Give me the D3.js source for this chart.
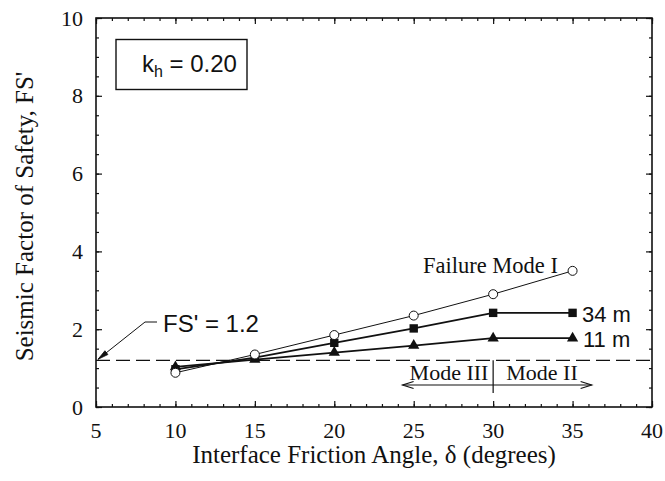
<!DOCTYPE html>
<html><head><meta charset="utf-8">
<script src="https://cdn.jsdelivr.net/npm/d3@7"></script>
<style>body{margin:0;background:#fff}svg{display:block}</style>
</head><body>
<svg id="c" width="665" height="481"></svg>
<script>
const angles = [10, 15, 20, 25, 30, 35];
const modeI = [0.88, 1.35, 1.85, 2.35, 2.90, 3.50];
const h34 = [0.97, 1.27, 1.65, 2.02, 2.42, 2.42];
const h11 = [1.03, 1.22, 1.40, 1.58, 1.77, 1.77];
const xTicks = [5, 10, 15, 20, 25, 30, 35, 40];
const yTicks = [0, 2, 4, 6, 8, 10];
const fsLimit = 1.2;
const modeBoundary = 30;
const modeArrowExtent = [24.3, 36.2];

const svg = d3.select("#c");
const L = 96, R = 652, T = 18, B = 407;
const x = d3.scaleLinear().domain([5, 40]).range([L, R]);
const y = d3.scaleLinear().domain([0, 10]).range([B, T]);
const serif = "Liberation Serif, Times New Roman, serif";
const sans = "Liberation Sans, Arial, sans-serif";
const ink = "#111";

// axes (ticks inward)
const minorX = d3.range(5, 40.01, 1);
const minorY = d3.range(0, 10.01, 0.5);
function axisTicks(g, orient, vals, size) {
  const ax = orient(orient === d3.axisBottom || orient === d3.axisTop ? x : y)
    .tickValues(vals).tickSize(-size).tickFormat("");
  g.call(ax);
  g.select(".domain").remove();
  g.selectAll("line").attr("stroke", ink).attr("stroke-width", 1.2);
}
axisTicks(svg.append("g").attr("transform", `translate(0,${B})`), d3.axisBottom, minorX, 3);
axisTicks(svg.append("g").attr("transform", `translate(0,${B})`), d3.axisBottom, xTicks, 6);
axisTicks(svg.append("g").attr("transform", `translate(0,${T})`), d3.axisTop, minorX, 3);
axisTicks(svg.append("g").attr("transform", `translate(0,${T})`), d3.axisTop, xTicks, 6);
axisTicks(svg.append("g").attr("transform", `translate(${L},0)`), d3.axisLeft, minorY, 3);
axisTicks(svg.append("g").attr("transform", `translate(${L},0)`), d3.axisLeft, yTicks, 6);
axisTicks(svg.append("g").attr("transform", `translate(${R},0)`), d3.axisRight, minorY, 3);
axisTicks(svg.append("g").attr("transform", `translate(${R},0)`), d3.axisRight, yTicks, 6);

svg.append("rect").attr("x", L).attr("y", T).attr("width", R - L).attr("height", B - T)
  .attr("fill", "none").attr("stroke", ink).attr("stroke-width", 1.6);

// tick labels
svg.append("g").selectAll("text").data(xTicks).join("text")
  .attr("x", d => x(d)).attr("y", 438).attr("text-anchor", "middle")
  .attr("font-family", serif).attr("font-size", 22).attr("fill", ink).text(d => d);
svg.append("g").selectAll("text").data(yTicks).join("text")
  .attr("x", 83).attr("y", d => y(d) + 7.5).attr("text-anchor", "end")
  .attr("font-family", serif).attr("font-size", 22).attr("fill", ink).text(d => d);

// axis titles
svg.append("text").attr("x", (L + R) / 2).attr("y", 463).attr("text-anchor", "middle")
  .attr("font-family", serif).attr("font-size", 25).attr("fill", ink)
  .text("Interface Friction Angle, δ (degrees)");
svg.append("text").attr("transform", `translate(33,${(T + B) / 2 + 4}) rotate(-90)`)
  .attr("text-anchor", "middle").attr("font-family", serif).attr("font-size", 25).attr("fill", ink)
  .text("Seismic Factor of Safety, FS'");

// dashed FS' line
svg.append("line").attr("x1", L).attr("x2", R).attr("y1", y(fsLimit)).attr("y2", y(fsLimit))
  .attr("stroke", ink).attr("stroke-width", 1.2).attr("stroke-dasharray", "14,6");

// series
const line = d3.line().x((d, i) => x(angles[i])).y(d => y(d));
svg.append("path").datum(modeI).attr("d", line).attr("fill", "none").attr("stroke", ink).attr("stroke-width", 1);
svg.append("path").datum(h34).attr("d", line).attr("fill", "none").attr("stroke", ink).attr("stroke-width", 1.8);
svg.append("path").datum(h11).attr("d", line).attr("fill", "none").attr("stroke", ink).attr("stroke-width", 1.8);

svg.append("g").selectAll("path").data(h11).join("path")
  .attr("transform", (d, i) => `translate(${x(angles[i])},${y(d)})`)
  .attr("d", d3.symbol(d3.symbolTriangle, 55)).attr("fill", ink);
svg.append("g").selectAll("rect").data(h34).join("rect")
  .attr("x", (d, i) => x(angles[i]) - 4.2).attr("y", d => y(d) - 4.2)
  .attr("width", 8.4).attr("height", 8.4).attr("fill", ink);
svg.append("g").selectAll("circle").data(modeI).join("circle")
  .attr("cx", (d, i) => x(angles[i])).attr("cy", d => y(d)).attr("r", 4.5)
  .attr("fill", "#fff").attr("stroke", ink).attr("stroke-width", 1);

// labels
svg.append("text").attr("x", 423).attr("y", 273).attr("font-family", serif).attr("font-size", 22.5)
  .attr("fill", ink).text("Failure Mode I");
svg.append("text").attr("x", 582).attr("y", 322).attr("font-family", sans).attr("font-size", 22)
  .attr("fill", ink).text("34 m");
svg.append("text").attr("x", 583).attr("y", 347).attr("font-family", sans).attr("font-size", 22)
  .attr("fill", ink).text("11 m");

// mode annotation
const ay = 385;
svg.append("line").attr("x1", x(modeBoundary)).attr("x2", x(modeBoundary))
  .attr("y1", y(fsLimit)).attr("y2", 393).attr("stroke", ink).attr("stroke-width", 1.2);
svg.append("line").attr("x1", x(modeArrowExtent[0])).attr("x2", x(modeArrowExtent[1]))
  .attr("y1", ay).attr("y2", ay).attr("stroke", ink).attr("stroke-width", 1.2);
[[modeArrowExtent[0], 1], [modeArrowExtent[1], -1]].forEach(([v, s]) => {
  const px = x(v);
  svg.append("path").attr("d", `M${px + s * 11},${ay - 3.5}L${px},${ay}L${px + s * 11},${ay + 3.5}`)
    .attr("fill", "none").attr("stroke", ink).attr("stroke-width", 1.2);
});
svg.append("text").attr("x", 449).attr("y", 380).attr("text-anchor", "middle")
  .attr("font-family", serif).attr("font-size", 22).attr("fill", ink).text("Mode III");
svg.append("text").attr("x", 542).attr("y", 380).attr("text-anchor", "middle")
  .attr("font-family", serif).attr("font-size", 22).attr("fill", ink).text("Mode II");

// FS' = 1.2 label with leader
svg.append("text").attr("x", 163).attr("y", 332).attr("font-family", sans).attr("font-size", 24)
  .attr("fill", ink).text("FS' = 1.2");
const tipX = x(5) + 2, tipY = y(fsLimit) - 1;
svg.append("path").attr("d", `M157,322L145,322L${tipX},${tipY}`)
  .attr("fill", "none").attr("stroke", ink).attr("stroke-width", 1);
{
  const ang = Math.atan2(tipY - 322, tipX - 145);
  const len = 11, w = 0.22;
  const p1 = [tipX - len * Math.cos(ang - w), tipY - len * Math.sin(ang - w)];
  const p2 = [tipX - len * Math.cos(ang + w), tipY - len * Math.sin(ang + w)];
  svg.append("path").attr("d", `M${p1}L${tipX},${tipY}L${p2}Z`)
    .attr("fill", ink).attr("stroke", ink).attr("stroke-width", 0.8);
}

// kh box
svg.append("rect").attr("x", 116).attr("y", 39.5).attr("width", 131).attr("height", 50)
  .attr("fill", "#fff").attr("stroke", ink).attr("stroke-width", 1.4);
const kt = svg.append("text").attr("x", 142).attr("y", 72).attr("font-family", sans)
  .attr("font-size", 24).attr("fill", ink);
kt.append("tspan").text("k");
kt.append("tspan").attr("font-size", 16).attr("dy", 5).text("h");
kt.append("tspan").attr("dy", -5).text(" = 0.20");
</script>
</body></html>
